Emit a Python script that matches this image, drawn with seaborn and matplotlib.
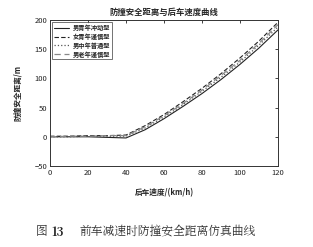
import numpy as np
import pandas as pd
import matplotlib
matplotlib.use("Agg")
import matplotlib.pyplot as plt
import seaborn as sns

speeds = [0, 10, 20, 30, 40, 50, 60, 70, 80, 90, 100, 110, 120]
s_young_male = [0, 0, 0, -1, -2, 12, 31, 52, 74, 98, 124, 152, 183]
s_young_female = [1, 1, 2, 2, 3, 19, 38, 60, 83, 108, 135, 164, 196]
s_mid_male = [0, 0, 1, 1, 1, 15, 34, 55, 78, 102, 128, 157, 188]
s_old_male = [0, 1, 1, 2, 2, 17, 36, 57, 80, 105, 131, 160, 192]
labels = ["男青年冲动型", "女青年谨慎型", "男中年普通型", "男老年谨慎型"]
xticks = [0, 20, 40, 60, 80, 100, 120]
yticks = [-50, 0, 50, 100, 150, 200]

sns.set_style("white")
plt.rcParams['font.family'] = ['Noto Sans CJK SC', 'DejaVu Sans']

fig = plt.figure(figsize=(3.13, 2.47), dpi=100)
ax = fig.add_axes([0.160, 0.328, 0.728, 0.591])

series = [s_young_male, s_young_female, s_mid_male, s_old_male]
styles = [("-", "#222222", 0.8), ((0, (4, 2)), "#222222", 0.8),
          (":", "#555555", 0.9), ((0, (5, 3)), "#888888", 0.9)]
for vals, lab, (ls, col, lw) in zip(series, labels, styles):
    df = pd.DataFrame({"v": speeds, "d": vals})
    sns.lineplot(data=df, x="v", y="d", ax=ax, label=lab, color=col,
                 linestyle=ls, linewidth=lw)

ax.set_xlim(0, 120)
ax.set_ylim(-50, 200)
ax.set_xticks(xticks)
ax.set_yticks(yticks)
ax.tick_params(direction="in", top=True, right=True, length=2.5, width=0.6,
               labelsize=5.5, pad=2, colors="#222222")
for sp in ax.spines.values():
    sp.set_color("#333333")
    sp.set_linewidth(0.7)

ax.set_xlabel("后车速度/(km/h)", fontsize=5.5, fontweight="bold", labelpad=8)
ax.set_ylabel("防撞安全距离/m", fontsize=5.5, fontweight="bold", labelpad=9)
ax.set_title("防撞安全距离与后车速度曲线", fontsize=6, fontweight="bold", pad=4)

leg = ax.legend(loc="upper left", fontsize=4.5, frameon=True, fancybox=False,
                handlelength=2.5, borderpad=0.3, labelspacing=0.3,
                borderaxespad=0.3, handletextpad=0.5)
leg.get_frame().set_edgecolor("#333333")
leg.get_frame().set_linewidth(0.6)
for t in leg.get_texts():
    t.set_fontweight("bold")

serif = ['Noto Serif CJK SC', 'Noto Sans CJK SC', 'DejaVu Sans']
fig.text(0.115, 0.06, "图", ha="left", va="center", fontsize=8.5,
         color="#333333", family=serif)
fig.text(0.165, 0.06, "13", ha="left", va="center", fontsize=8.5,
         color="#222222", fontweight="bold", family=serif)
fig.text(0.255, 0.06, "前车减速时防撞安全距离仿真曲线", ha="left",
         va="center", fontsize=8.5, color="#333333", family=serif)

fig.savefig("out.png", dpi=100, facecolor="white")
